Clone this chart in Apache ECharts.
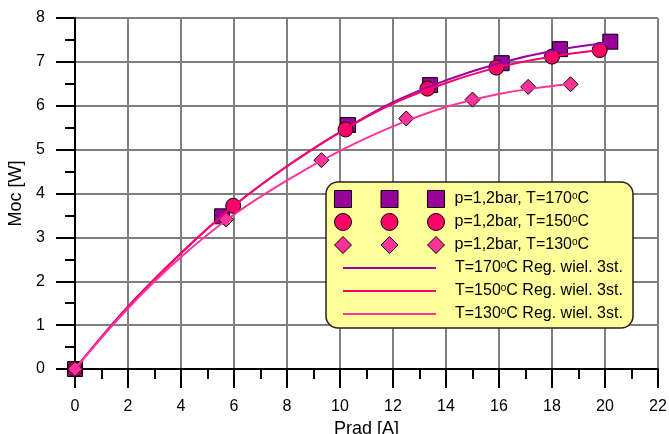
<!DOCTYPE html>
<html>
<head>
<meta charset="utf-8">
<script src="https://cdn.jsdelivr.net/npm/echarts@6/dist/echarts.min.js"></script>
<style>
  html, body { margin: 0; padding: 0; background: #fff; }
  #chart { width: 669px; height: 434px; }
</style>
</head>
<body>
<div id="chart"></div>
<script>
// measured points (Prad [A], Moc [W])
const xSq170 = [0, 5.55, 10.3, 13.4, 16.1, 18.3, 20.2];
const ySq170 = [0, 3.48, 5.56, 6.47, 6.97, 7.29, 7.46];
const xCi150 = [0, 5.97, 10.21, 13.3, 15.9, 18.0, 19.8];
const yCi150 = [0, 3.72, 5.46, 6.39, 6.87, 7.12, 7.27];
const xDi130 = [0, 5.7, 9.3, 12.5, 15.0, 17.1, 18.7];
const yDi130 = [0, 3.41, 4.76, 5.71, 6.14, 6.43, 6.49];

// regression curves
const xReg170 = [0, 2, 4, 6, 8, 10, 12, 14, 16, 18, 20.2];
const yReg170 = [0, 1.42, 2.64, 3.72, 4.62, 5.4, 6.08, 6.58, 6.97, 7.25, 7.44];
const xReg150 = [0, 2, 4, 6, 8, 10, 12, 14, 16, 18, 19.8];
const yReg150 = [0, 1.42, 2.64, 3.72, 4.62, 5.4, 6.05, 6.52, 6.88, 7.12, 7.27];
const xReg130 = [0, 2, 4, 6, 8, 10, 12, 14, 16, 18, 18.7];
const yReg130 = [0, 1.38, 2.55, 3.52, 4.3, 4.97, 5.53, 5.97, 6.27, 6.45, 6.49];

const pointNames = ['p=1,2bar, T=170°C', 'p=1,2bar, T=150°C', 'p=1,2bar, T=130°C'];
const regNames = ['T=170°C Reg. wiel. 3st.', 'T=150°C Reg. wiel. 3st.', 'T=130°C Reg. wiel. 3st.'];

const FONT = "'Liberation Sans', Arial, sans-serif";
const zip = (xs, ys) => xs.map((x, i) => [x, ys[i]]);

const chart = echarts.init(document.getElementById('chart'));

const legendText = {
  color: '#000',
  fontFamily: FONT,
  fontSize: 16,
  rich: {
    s: { fontSize: 10, fontFamily: FONT, color: '#000', verticalAlign: 'top', padding: [0, 0, 6, 0] }
  }
};
const fmt = (name) => name.replace('°', '{s|o}');

const option = {
  animation: false,
  textStyle: { fontFamily: FONT },
  grid: { left: 75, right: 11, top: 18, bottom: 65, outerBoundsMode: 'none' },
  graphic: [{
    type: 'rect',
    z: 3,
    shape: { x: 326, y: 182, width: 307, height: 146, r: 12 },
    style: { fill: '#ffff99', stroke: '#222', lineWidth: 1.5 }
  }],
  legend: [{
    orient: 'vertical',
    left: 334,
    top: 190,
    padding: 0,
    itemWidth: 110,
    itemHeight: 17,
    itemGap: 5,
    textStyle: Object.assign({ padding: [0, 0, 0, 5] }, legendText),
    formatter: fmt,
    data: [
      { name: pointNames[0], itemStyle: { borderWidth: 1, borderColor: '#000' },
        icon: 'path://M0,0h17v17h-17z M46.5,0h17v17h-17z M93,0h17v17h-17z' },
      { name: pointNames[1], itemStyle: { borderWidth: 1, borderColor: '#000' },
        icon: 'path://M0,8.5a8.5,8.5 0 1,0 17,0a8.5,8.5 0 1,0 -17,0z M46.5,8.5a8.5,8.5 0 1,0 17,0a8.5,8.5 0 1,0 -17,0z M93,8.5a8.5,8.5 0 1,0 17,0a8.5,8.5 0 1,0 -17,0z' },
      { name: pointNames[2], itemStyle: { borderWidth: 1, borderColor: '#000' },
        icon: 'path://M8.5,0L17,8.5L8.5,17L0,8.5z M55,0L63.5,8.5L55,17L46.5,8.5z M101.5,0L110,8.5L101.5,17L93,8.5z' }
    ]
  }, {
    orient: 'vertical',
    left: 343,
    top: 260,
    padding: 0,
    itemWidth: 93,
    itemHeight: 17,
    itemGap: 7,
    textStyle: Object.assign({ padding: [0, 0, 0, 14] }, legendText),
    formatter: fmt,
    data: regNames.map(n => ({ name: n, icon: 'path://M0,0h93v2h-93z', itemStyle: { borderWidth: 0 } }))
  }],
  xAxis: {
    type: 'value',
    min: 0,
    max: 22,
    interval: 2,
    name: 'Prad [A]',
    nameLocation: 'middle',
    nameGap: 47,
    nameTextStyle: { color: '#000', fontSize: 18, fontFamily: FONT },
    axisLine: { lineStyle: { color: '#000', width: 2 } },
    axisTick: { length: 19, lineStyle: { color: '#000', width: 2 } },
    minorTick: { show: true, splitNumber: 2, length: 10, lineStyle: { color: '#000', width: 2 } },
    axisLabel: { margin: 30, color: '#000', fontSize: 16, fontFamily: FONT },
    splitLine: { show: true, lineStyle: { color: '#808080', width: 2 } }
  },
  yAxis: {
    type: 'value',
    min: 0,
    max: 8,
    interval: 1,
    name: 'Moc [W]',
    nameLocation: 'middle',
    nameGap: 40,
    nameTextStyle: { color: '#000', fontSize: 18, fontFamily: FONT },
    axisLine: { lineStyle: { color: '#000', width: 2 } },
    axisTick: { length: 19, lineStyle: { color: '#000', width: 2 } },
    minorTick: { show: true, splitNumber: 2, length: 10, lineStyle: { color: '#000', width: 2 } },
    axisLabel: { margin: 30, color: '#000', fontSize: 16, fontFamily: FONT },
    splitLine: { show: true, lineStyle: { color: '#555', width: 1.5 } }
  },
  series: [
    {
      name: regNames[0], type: 'line', data: zip(xReg170, yReg170),
      smooth: 0.4, symbol: 'none', clip: false,
      itemStyle: { color: '#9900aa' }, lineStyle: { color: '#9900aa', width: 2 }
    },
    {
      name: regNames[1], type: 'line', data: zip(xReg150, yReg150),
      smooth: 0.4, symbol: 'none', clip: false,
      itemStyle: { color: '#ff0066' }, lineStyle: { color: '#ff0066', width: 2 }
    },
    {
      name: regNames[2], type: 'line', data: zip(xReg130, yReg130),
      smooth: 0.4, symbol: 'none', clip: false,
      itemStyle: { color: '#ff3399' }, lineStyle: { color: '#ff3399', width: 2 }
    },
    {
      name: pointNames[0], type: 'scatter', data: zip(xSq170, ySq170),
      symbol: 'rect', symbolSize: 15, clip: false,
      itemStyle: { color: '#990099', borderColor: '#000', borderWidth: 1, opacity: 1 }
    },
    {
      name: pointNames[1], type: 'scatter', data: zip(xCi150, yCi150),
      symbol: 'circle', symbolSize: 15, clip: false,
      itemStyle: { color: '#ff0066', borderColor: '#000', borderWidth: 1, opacity: 1 }
    },
    {
      name: pointNames[2], type: 'scatter', data: zip(xDi130, yDi130),
      symbol: 'diamond', symbolSize: 15, clip: false,
      itemStyle: { color: '#ff3399', borderColor: '#000', borderWidth: 1, opacity: 1 }
    }
  ]
};

chart.setOption(option);
</script>
</body>
</html>
